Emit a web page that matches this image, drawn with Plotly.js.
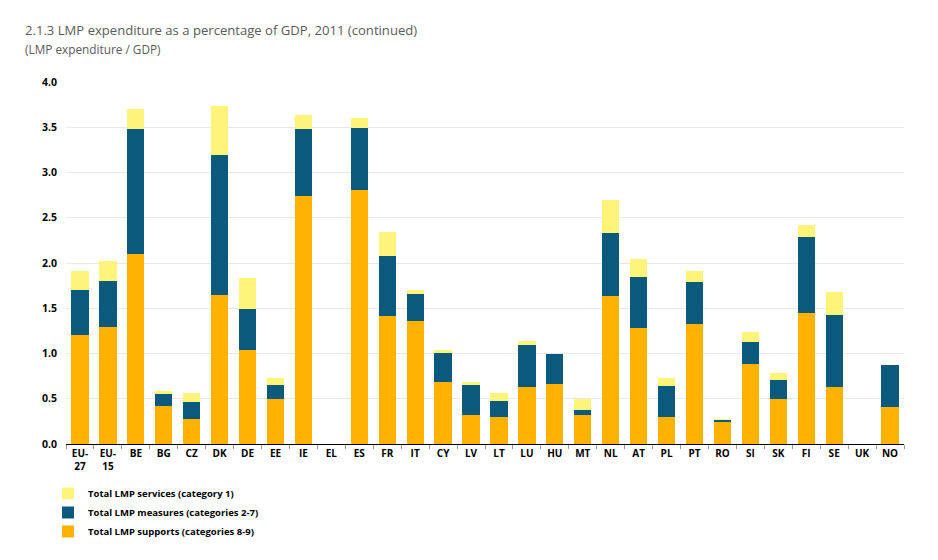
<!DOCTYPE html>
<html>
<head>
<meta charset="utf-8">
<script src="https://cdn.plot.ly/plotly-3.0.1.min.js"></script>
<style>html,body{margin:0;padding:0;background:#fff;}#chart{width:938px;height:560px;}</style>
</head>
<body>
<div id="chart"></div>
<script>
const categories = ["EU-<br>27","EU-<br>15","BE","BG","CZ","DK","DE","EE","IE","EL","ES","FR","IT","CY","LV","LT","LU","HU","MT","NL","AT","PL","PT","RO","SI","SK","FI","SE","UK","NO"];
const supports = [1.21,1.29,2.10,0.42,0.28,1.65,1.04,0.50,2.74,null,2.81,1.41,1.36,0.69,0.32,0.30,0.63,0.66,0.32,1.63,1.28,0.30,1.33,0.24,0.88,0.50,1.45,0.63,null,0.41];
const measures = [0.49,0.51,1.38,0.13,0.18,1.54,0.45,0.15,0.74,null,0.68,0.67,0.30,0.32,0.33,0.17,0.46,0.34,0.06,0.70,0.57,0.34,0.46,0.02,0.25,0.21,0.84,0.80,null,0.46];
const services = [0.21,0.22,0.22,0.04,0.10,0.55,0.34,0.08,0.15,null,0.11,0.26,0.04,0.03,0.03,0.09,0.05,0.00,0.12,0.37,0.19,0.09,0.12,0.02,0.11,0.08,0.13,0.25,null,0.00];
const seriesNames = ["Total LMP supports (categories 8-9)","Total LMP measures (categories 2-7)","Total LMP services (category 1)"];
const yTicks = [0,0.5,1,1.5,2,2.5,3,3.5,4];
const yTickText = ["0.0","0.5","1.0","1.5","2.0","2.5","3.0","3.5","4.0"];

const colors = ["#FDB100","#0B5A7E","#FFF47A"];
const traces = [supports, measures, services].map((vals, i) => ({
  type: "bar",
  x: categories,
  y: vals,
  name: seriesNames[i],
  marker: {color: colors[i], line: {width: 0}},
  hoverinfo: "x+y+name"
}));

const layout = {
  width: 938, height: 560,
  margin: {l: 66, r: 34, t: 82, b: 116},
  paper_bgcolor: "#ffffff", plot_bgcolor: "#ffffff",
  barmode: "stack",
  bargap: 0.38,
  font: {family: "Open Sans, sans-serif", color: "#000"},
  title: {
    text: "2.1.3 LMP expenditure as a percentage of GDP, 2011 (continued)",
    font: {family: "Open Sans, sans-serif", size: 13.1, color: "#5a5a5a"},
    xref: "container", yref: "container",
    x: 25/938, xanchor: "left", y: 1 - 30/560, yanchor: "middle"
  },
  annotations: [{
    text: "(LMP expenditure / GDP)",
    xref: "paper", yref: "paper",
    x: (23-66)/838, y: (444-49)/362,
    xanchor: "left", yanchor: "middle", showarrow: false,
    font: {family: "Open Sans, sans-serif", size: 11.8, color: "#5a5a5a"}
  }],
  xaxis: {
    type: "category",
    tickfont: {family: "Open Sans, sans-serif", size: 10, color: "#000", weight: "bold"},
    showline: true, linecolor: "#000", linewidth: 1,
    ticks: "outside", tickson: "boundaries", ticklen: 4, tickcolor: "#9a9a9a",
    showgrid: false, fixedrange: true
  },
  yaxis: {
    range: [0, 4.0],
    tickvals: yTicks, ticktext: yTickText,
    tickfont: {family: "Open Sans, sans-serif", size: 10.5, color: "#000", weight: "bold"},
    showgrid: true, gridcolor: "#e8e8e8", gridwidth: 1,
    zeroline: false, showline: false, ticks: "", ticklabelstandoff: 8,
    fixedrange: true
  },
  legend: {
    orientation: "v",
    traceorder: "reversed",
    x: (48-66)/838, y: (444-479)/362, xanchor: "left", yanchor: "top",
    font: {family: "Open Sans, sans-serif", size: 9.5, color: "#000", weight: "bold"},
    itemwidth: 30,
    bgcolor: "rgba(0,0,0,0)"
  },
  showlegend: true
};

Plotly.newPlot("chart", traces, layout, {displayModeBar: false, staticPlot: true});
</script>
</body>
</html>
